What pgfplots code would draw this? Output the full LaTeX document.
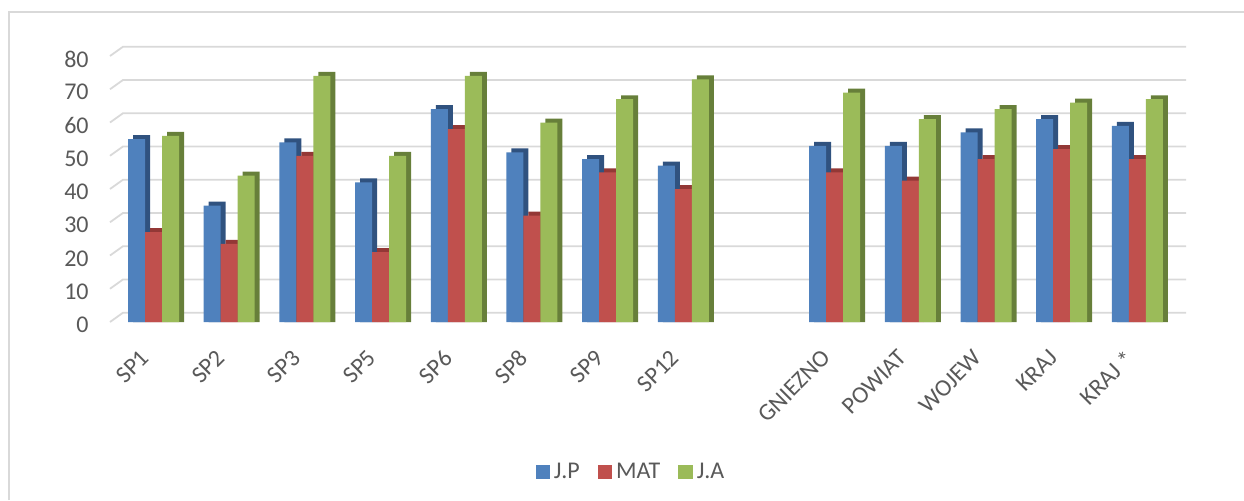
\documentclass[border=0pt]{standalone}
\usepackage{fontspec}
\setmainfont{Carlito}
\usepackage{pgfplots}
\usepackage{pgfplotstable}
\pgfplotsset{compat=1.18}

\definecolor{cblue}{HTML}{4F81BD}
\definecolor{cred}{HTML}{C0504D}
\definecolor{cgreen}{HTML}{9BBB59}
\definecolor{cbluedark}{HTML}{30527F}
\definecolor{creddark}{HTML}{933836}
\definecolor{cgreendark}{HTML}{677F3A}
\definecolor{gridc}{HTML}{D9D9D9}
\definecolor{txt}{HTML}{595959}

% x: 0..7 schools, 8 left empty, 9..13 comparison groups
\pgfplotstableread{
x  jp  mat   ja
0  55  27    56
1  35  23.5  44
2  54  50    74
3  42  21    50
4  64  58    74
5  51  32    60
6  49  45    67
7  47  40    73
9  53  45    69
10 53  42.5  61
11 57  49    64
12 61  52    66
13 59  49    67
}\scores

\pgfplotsset{
  front/.style={ybar, bar width=8.5pt, draw=none, fill=#1,
    legend image code/.code={\fill[#1] (0pt,-3.6pt) rectangle (7.2pt,3.6pt);}},
  side/.style={ybar, bar width=8.5pt, draw=none, fill=#1, forget plot},
}

\begin{document}
\begin{tikzpicture}
\useasboundingbox (-55pt,-89pt) rectangle (567pt,161pt);
\draw[gridc, line width=0.75pt] (-50.5pt,-89pt) -- (-50.5pt,155pt) -- (567pt,155pt);
\begin{axis}[
  at={(0pt,0pt)}, anchor=south west, scale only axis,
  width=531.5pt, height=133pt,
  xmin=-0.575, xmax=13.47, ymin=0, ymax=80,
  clip=false,
  axis line style={draw=none}, tick style={draw=none},
  ytick={0,10,...,80},
  xtick={0,1,2,3,4,5,6,7,9,10,11,12,13},
  xticklabels={SP1,SP2,SP3,SP5,SP6,SP8,SP9,SP12,GNIEZNO,POWIAT,WOJEW,KRAJ,KRAJ *},
  /pgf/number format/assume math mode=true,
  ticklabel style={font=\fontsize{12}{14.4}\selectfont, text=txt},
  yticklabel style={anchor=east, inner sep=0pt, xshift=-10.5pt, yshift=-1.5pt},
  xticklabel style={xshift=-7pt, yshift=-13pt, rotate=45, anchor=north east, inner sep=0pt},
  legend style={at={(0.491,-0.565)}, anchor=center, draw=none, fill=none,
    legend columns=3, font=\fontsize{12}{14.4}\selectfont, text=txt,
    /tikz/every even column/.append style={column sep=7pt}},
]
% back-wall gridlines
\pgfplotsinvokeforeach{0,10,20,30,40,50,60,70,80}{
  \draw[gridc, line width=0.9pt] (axis cs:-0.575,#1) -- (axis cs:-0.403,#1+2.8) -- (axis cs:13.642,#1+2.8);
}
% darker side/top faces
\addplot[side=cbluedark, bar shift=-6pt] table[x=x, y expr=\thisrow{jp}+1.2] {\scores};
\addplot[side=creddark, bar shift=2.5pt] table[x=x, y expr=\thisrow{mat}+1.2] {\scores};
\addplot[side=cgreendark, bar shift=11pt] table[x=x, y expr=\thisrow{ja}+1.2] {\scores};
% front faces
\addplot[front=cblue, bar shift=-8.5pt] table[x=x, y=jp] {\scores};
\addplot[front=cred, bar shift=0pt] table[x=x, y=mat] {\scores};
\addplot[front=cgreen, bar shift=8.5pt] table[x=x, y=ja] {\scores};
\legend{J.P, MAT, J.A}
\end{axis}
\end{tikzpicture}
\end{document}
